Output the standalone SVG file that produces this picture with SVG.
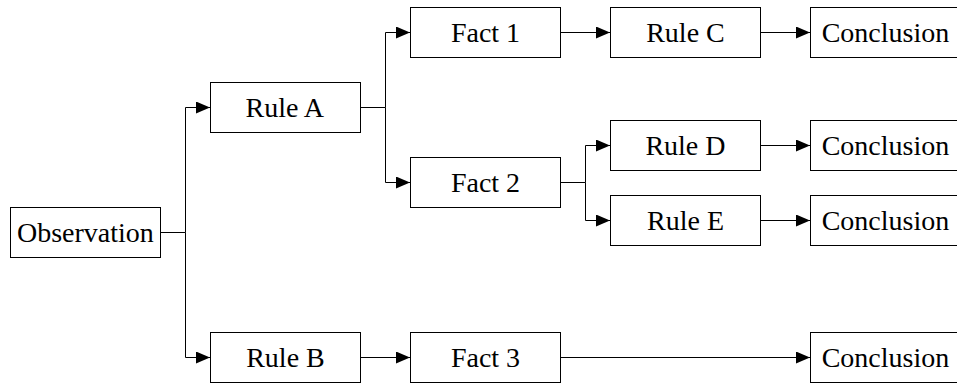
<svg xmlns="http://www.w3.org/2000/svg" width="957" height="385" viewBox="0 0 957 385">
<defs>
<marker id="arr" markerUnits="userSpaceOnUse" markerWidth="14" markerHeight="12" refX="14" refY="6" orient="auto">
<path d="M0,0 L14,6 L0,12 Z" fill="#000"/>
</marker>
</defs>
<g id="connectors" fill="none" stroke="#000" stroke-width="1">
<path d="M160.5,232.5 H185.5 V107.5 H210" marker-end="url(#arr)"/>
<path d="M185.5,232.5 V357.5 H210" marker-end="url(#arr)"/>
<path d="M360.5,107.5 H385.5 V32.5 H410" marker-end="url(#arr)"/>
<path d="M385.5,107.5 V182.5 H410" marker-end="url(#arr)"/>
<path d="M560.5,32.5 H610" marker-end="url(#arr)"/>
<path d="M760.5,32.5 H810" marker-end="url(#arr)"/>
<path d="M560.5,182.5 H585.5 V145.5 H610" marker-end="url(#arr)"/>
<path d="M585.5,182.5 V220.5 H610" marker-end="url(#arr)"/>
<path d="M760.5,145.5 H810" marker-end="url(#arr)"/>
<path d="M760.5,220.5 H810" marker-end="url(#arr)"/>
<path d="M360.5,357.5 H410" marker-end="url(#arr)"/>
<path d="M560.5,357.5 H810" marker-end="url(#arr)"/>
</g>
<g id="nodes" font-size="28">
<g id="observation"><rect x="10.5" y="207.5" width="150" height="50" fill="#fff" stroke="#000"/><text x="17" y="242" font-family="Liberation Serif">Observation</text></g>
<g id="ruleA"><rect x="210.5" y="82.5" width="150" height="50" fill="#fff" stroke="#000"/><text x="245.5" y="117" font-family="Liberation Serif">Rule A</text></g>
<g id="ruleB"><rect x="210.5" y="332.5" width="150" height="50" fill="#fff" stroke="#000"/><text x="246.2" y="367" font-family="Liberation Serif">Rule B</text></g>
<g id="fact1"><rect x="410.5" y="7.5" width="150" height="50" fill="#fff" stroke="#000"/><text x="450.9" y="42" font-family="Liberation Serif">Fact 1</text></g>
<g id="fact2"><rect x="410.5" y="157.5" width="150" height="50" fill="#fff" stroke="#000"/><text x="450.9" y="192" font-family="Liberation Serif">Fact 2</text></g>
<g id="fact3"><rect x="410.5" y="332.5" width="150" height="50" fill="#fff" stroke="#000"/><text x="450.9" y="367" font-family="Liberation Serif">Fact 3</text></g>
<g id="ruleC"><rect x="610.5" y="7.5" width="150" height="50" fill="#fff" stroke="#000"/><text x="646.2" y="42" font-family="Liberation Serif">Rule C</text></g>
<g id="ruleD"><rect x="610.5" y="120.5" width="150" height="50" fill="#fff" stroke="#000"/><text x="645.4" y="155" font-family="Liberation Serif">Rule D</text></g>
<g id="ruleE"><rect x="610.5" y="195.5" width="150" height="50" fill="#fff" stroke="#000"/><text x="647" y="230" font-family="Liberation Serif">Rule E</text></g>
<g id="conclusion1"><rect x="810.5" y="7.5" width="150" height="50" fill="#fff" stroke="#000"/><text x="821.7" y="42" font-family="Liberation Serif">Conclusion</text></g>
<g id="conclusion2"><rect x="810.5" y="120.5" width="150" height="50" fill="#fff" stroke="#000"/><text x="821.7" y="155" font-family="Liberation Serif">Conclusion</text></g>
<g id="conclusion3"><rect x="810.5" y="195.5" width="150" height="50" fill="#fff" stroke="#000"/><text x="821.7" y="230" font-family="Liberation Serif">Conclusion</text></g>
<g id="conclusion4"><rect x="810.5" y="332.5" width="150" height="50" fill="#fff" stroke="#000"/><text x="821.7" y="367" font-family="Liberation Serif">Conclusion</text></g>
</g>
</svg>
